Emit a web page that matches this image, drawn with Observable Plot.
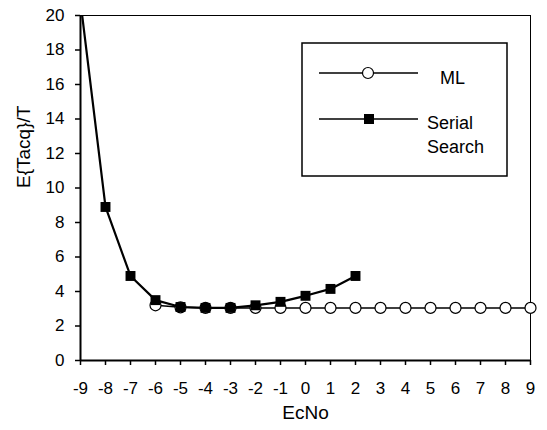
<!DOCTYPE html>
<html><head><meta charset="utf-8">
<script src="https://cdn.jsdelivr.net/npm/d3@7"></script>
<script src="https://cdn.jsdelivr.net/npm/@observablehq/plot@0.6"></script>
<style>
body{margin:0;background:#fff;}
#wrap{position:relative;width:547px;height:430px;}
</style></head><body><div id="wrap"></div>
<script>
// Data
const mlX = [-6,-5,-4,-3,-2,-1,0,1,2,3,4,5,6,7,8,9];
const mlY = [3.2,3.08,3.05,3.05,3.05,3.05,3.05,3.05,3.05,3.05,3.05,3.05,3.05,3.05,3.05,3.05];
const ssX = [-9,-8,-7,-6,-5,-4,-3,-2,-1,0,1,2];
const ssY = [20.8,8.9,4.9,3.5,3.1,3.05,3.05,3.2,3.4,3.75,4.15,4.9];
const xTicks = [-9,-8,-7,-6,-5,-4,-3,-2,-1,0,1,2,3,4,5,6,7,8,9];
const yTicks = [0,2,4,6,8,10,12,14,16,18,20];
const seriesNames = ["ML", ["Serial","Search"]];
const xTitle = "EcNo";
const yTitle = "E{Tacq}/T";

const ml = mlX.map((x,i)=>({x, y: mlY[i]}));
const ss = ssX.map((x,i)=>({x, y: ssY[i]}));

const chart = Plot.plot({
  width: 547, height: 430,
  marginLeft: 80, marginRight: 17, marginTop: 15, marginBottom: 70,
  style: {fontFamily: "'Liberation Sans', Arial, sans-serif", fontSize: "17px", color: "#000", background: "#fff"},
  x: {domain: [-9, 9]},
  y: {domain: [0, 20]},
  marks: [
    Plot.frame({stroke: "#000", strokeWidth: 1}),
    Plot.axisX({ticks: xTicks, tickSize: 5, tickPadding: 16, tickFormat: d => String(d), label: null, stroke: "#000", strokeWidth: 1.5}),
    Plot.axisY({ticks: yTicks, tickSize: 5, tickPadding: 11, tickFormat: d => String(d), label: null, stroke: "#000", strokeWidth: 1.5}),
    Plot.ruleX([-9], {stroke: "#000", strokeWidth: 2}),
    Plot.ruleY([0], {stroke: "#000", strokeWidth: 2}),
    Plot.text([xTitle], {frameAnchor: "bottom", dy: 58, fontSize: 19, fill: "#000"}),
    Plot.text([yTitle], {frameAnchor: "left", dx: -57, rotate: -90, fontSize: 19, fill: "#000"}),
    Plot.line(ml, {x: "x", y: "y", stroke: "#000", strokeWidth: 1.5}),
    Plot.dot(ml, {x: "x", y: "y", r: 5.5, fill: "#fff", stroke: "#000", strokeWidth: 1.2}),
    Plot.line(ss, {x: "x", y: "y", stroke: "#000", strokeWidth: 2.2, clip: true}),
    Plot.dot(ss, {x: "x", y: "y", symbol: "square", r: 5.6, fill: "#000", clip: true})
  ]
});
document.getElementById("wrap").appendChild(chart);

// Legend (inside the svg)
const svg = d3.select(chart);
const lg = svg.append("g")
  .attr("font-family", "'Liberation Sans', Arial, sans-serif")
  .attr("font-size", 18)
  .attr("text-anchor", "start")
  .attr("fill", "#000");
lg.append("rect").attr("x", 302).attr("y", 43).attr("width", 205).attr("height", 133)
  .attr("fill", "#fff").attr("stroke", "#000").attr("stroke-width", 1.5);
lg.append("line").attr("x1", 319).attr("x2", 418).attr("y1", 73).attr("y2", 73).attr("stroke", "#000").attr("stroke-width", 1.5);
lg.append("circle").attr("cx", 368).attr("cy", 73).attr("r", 5.5).attr("fill", "#fff").attr("stroke", "#000").attr("stroke-width", 1.2);
lg.append("text").attr("x", 440).attr("y", 78).attr("text-anchor", "start").attr("dominant-baseline", "central").text(seriesNames[0]);
lg.append("line").attr("x1", 319).attr("x2", 418).attr("y1", 119).attr("y2", 119).attr("stroke", "#000").attr("stroke-width", 1.5);
lg.append("rect").attr("x", 364).attr("y", 114).attr("width", 10).attr("height", 10).attr("fill", "#000");
seriesNames[1].forEach((t, i) => {
  lg.append("text").attr("x", 427).attr("y", 123 + i * 24).attr("text-anchor", "start").attr("dominant-baseline", "central").text(t);
});
</script>
</body></html>
